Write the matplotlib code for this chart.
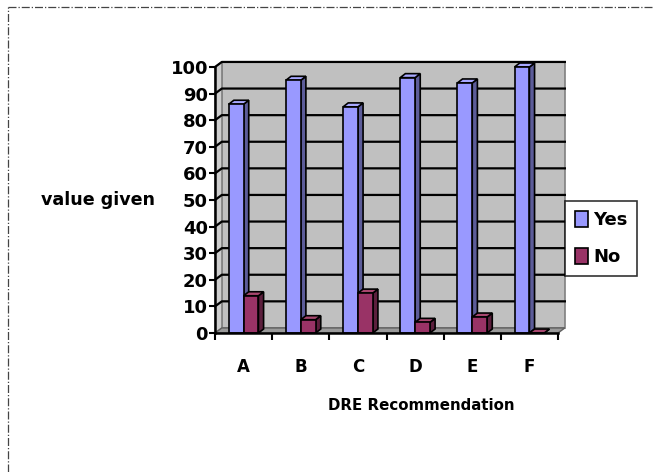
import matplotlib
matplotlib.use("Agg")
import matplotlib.pyplot as plt
from matplotlib.patches import Polygon, Patch
from matplotlib.lines import Line2D

# =====================================================
# DATA
# =====================================================

categories = ["A", "B", "C", "D", "E", "F"]
yes_values = [86, 95, 85, 96, 94, 100]
no_values = [14, 5, 15, 4, 6, 0]
y_ticks = [0, 10, 20, 30, 40, 50, 60, 70, 80, 90, 100]

# =====================================================
# STYLE
# =====================================================

YES_FRONT = "#9999FF"
YES_SIDE = "#5C5C99"
YES_TOP = "#A8A8FF"
NO_FRONT = "#993366"
NO_SIDE = "#5C1F3D"
NO_TOP = "#A8476F"
WALL = "#C0C0C0"
SIDE_WALL = "#CDCDCD"
FLOOR = "#9A9A9A"

FONT = "DejaVu Sans"

# depth of the walls and bars (data units)
WALL_DX, WALL_DY = 0.12, 1.9
BAR_DX, BAR_DY = 0.09, 1.5
BAR_W = 0.26

# =====================================================
# FIGURE
# =====================================================

fig = plt.figure(figsize=(6.54, 4.72), dpi=100)

ax = fig.add_axes([215 / 654, (472 - 333) / 472, 343 / 654, 266 / 472])
ax.set_xlim(-0.5, len(categories) - 0.5)
ax.set_ylim(0, 100)
ax.patch.set_visible(False)

x0 = -0.5
x1 = len(categories) - 0.5

# walls
ax.add_patch(Polygon(
    [(x0 + WALL_DX, WALL_DY), (x1 + WALL_DX, WALL_DY),
     (x1 + WALL_DX, 100 + WALL_DY), (x0 + WALL_DX, 100 + WALL_DY)],
    closed=True, facecolor=WALL, edgecolor="#808080", lw=1.2,
    clip_on=False, zorder=1
))
ax.add_patch(Polygon(
    [(x0, 0), (x0 + WALL_DX, WALL_DY),
     (x0 + WALL_DX, 100 + WALL_DY), (x0, 100)],
    closed=True, facecolor=SIDE_WALL, edgecolor="#808080", lw=1.0,
    clip_on=False, zorder=1
))
ax.add_patch(Polygon(
    [(x0, 0), (x1, 0), (x1 + WALL_DX, WALL_DY), (x0 + WALL_DX, WALL_DY)],
    closed=True, facecolor=FLOOR, edgecolor="#606060", lw=1.0,
    clip_on=False, zorder=1
))

# gridlines
for v in y_ticks[1:]:
    ax.plot(
        [x0, x0 + WALL_DX, x1 + WALL_DX],
        [v, v + WALL_DY, v + WALL_DY],
        color="black", lw=1.6, clip_on=False, zorder=2
    )

# =====================================================
# BARS
# =====================================================

def draw_bar(left, height, front, side, top):
    right = left + BAR_W
    ax.add_patch(Polygon(
        [(right, 0), (right + BAR_DX, BAR_DY),
         (right + BAR_DX, height + BAR_DY), (right, height)],
        closed=True, facecolor=side, edgecolor="black", lw=1.2,
        clip_on=False, zorder=3
    ))
    ax.add_patch(Polygon(
        [(left, height), (right, height),
         (right + BAR_DX, height + BAR_DY), (left + BAR_DX, height + BAR_DY)],
        closed=True, facecolor=top, edgecolor="black", lw=1.2,
        clip_on=False, zorder=3
    ))
    ax.add_patch(Polygon(
        [(left, 0), (right, 0), (right, height), (left, height)],
        closed=True, facecolor=front, edgecolor="black", lw=1.2,
        clip_on=False, zorder=3
    ))


for i in range(len(categories)):
    draw_bar(i - BAR_W, yes_values[i], YES_FRONT, YES_SIDE, YES_TOP)
    draw_bar(i, no_values[i], NO_FRONT, NO_SIDE, NO_TOP)

# =====================================================
# AXES
# =====================================================

for s in ["top", "right"]:
    ax.spines[s].set_visible(False)
for s in ["left", "bottom"]:
    ax.spines[s].set_linewidth(1.8)
    ax.spines[s].set_zorder(4)

ax.set_yticks(y_ticks)
ax.set_yticklabels([str(v) for v in y_ticks])
ax.tick_params(axis="y", length=4, width=1.5, pad=1, labelsize=13)

ax.set_xticks([i - 0.5 for i in range(len(categories) + 1)])
ax.set_xticklabels([""] * (len(categories) + 1))
ax.set_xticks(range(len(categories)), minor=True)
ax.set_xticklabels(categories, minor=True)
ax.tick_params(axis="x", which="major", length=5, width=1.5, direction="out")
ax.tick_params(axis="x", which="minor", length=0, pad=18, labelsize=12)

for lab in ax.get_yticklabels() + ax.get_xticklabels(minor=True):
    lab.set_fontfamily(FONT)
    lab.set_fontweight("bold")

fig.text(41 / 654, 1 - 200 / 472, "value given", fontsize=12.6,
         fontweight="bold", family=FONT, ha="left", va="center")
fig.text(421 / 654, 1 - 406 / 472, "DRE Recommendation", fontsize=10.8,
         fontweight="bold", family=FONT, ha="center", va="center")

# =====================================================
# LEGEND
# =====================================================

handles = [
    Patch(facecolor=YES_FRONT, edgecolor="black", lw=1.2, label="Yes"),
    Patch(facecolor=NO_FRONT, edgecolor="black", lw=1.2, label="No"),
]
leg = fig.legend(
    handles=handles,
    loc="upper left",
    bbox_to_anchor=(565 / 654, 1 - 201 / 472),
    frameon=True,
    fancybox=False,
    edgecolor="black",
    handlelength=0.7,
    handleheight=1.0,
    handletextpad=0.3,
    labelspacing=1.05,
    borderpad=0.55,
    borderaxespad=0,
    prop={"family": FONT, "weight": "bold", "size": 13},
)
leg.get_frame().set_linewidth(1.2)

# =====================================================
# DOTTED BORDER
# =====================================================

fig.add_artist(Line2D([8 / 654, 8 / 654], [0, 1 - 7 / 472],
                      transform=fig.transFigure, color="#444444",
                      lw=0.9, linestyle="-."))
fig.add_artist(Line2D([8 / 654, 1], [1 - 7 / 472, 1 - 7 / 472],
                      transform=fig.transFigure, color="#444444",
                      lw=0.9, linestyle="-."))

fig.savefig("out.png", dpi=100)
